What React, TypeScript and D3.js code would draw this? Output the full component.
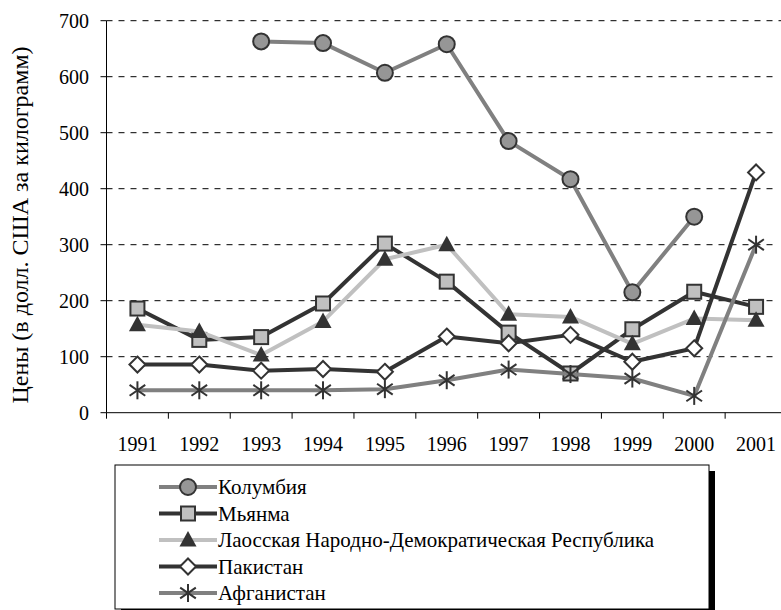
import React from "react";
import * as d3 from "d3";

const years = ["1991", "1992", "1993", "1994", "1995", "1996", "1997", "1998", "1999", "2000", "2001"];
const yTicks = [0, 100, 200, 300, 400, 500, 600, 700];

const colombia = [null, null, 663, 660, 607, 658, 485, 417, 215, 350, null];
const myanmar = [186, 130, 135, 195, 302, 234, 143, 70, 149, 216, 189];
const laos = [157, 145, 103, 163, 274, 300, 176, 171, 123, 168, 165];
const pakistan = [86, 86, 75, 78, 73, 136, 124, 139, 91, 115, 429];
const afghanistan = [40, 40, 40, 40, 42, 58, 77, 69, 61, 30, 300];

const seriesNames = [
  "Колумбия",
  "Мьянма",
  "Лаосская Народно-Демократическая Республика",
  "Пакистан",
  "Афганистан",
];

type Sym = "circle" | "square" | "triangle" | "diamond" | "star";

const series = [
  { name: seriesNames[0], values: colombia, line: "#808080", sym: "circle" as Sym },
  { name: seriesNames[1], values: myanmar, line: "#333333", sym: "square" as Sym },
  { name: seriesNames[2], values: laos, line: "#c0c0c0", sym: "triangle" as Sym },
  { name: seriesNames[3], values: pakistan, line: "#333333", sym: "diamond" as Sym },
  { name: seriesNames[4], values: afghanistan, line: "#808080", sym: "star" as Sym },
];

const serif = "Liberation Serif";

const Marker = ({ sym, x, y }: { sym: Sym; x: number; y: number }) => {
  if (sym === "circle")
    return <circle cx={x} cy={y} r={8} fill="#969696" stroke="#333" strokeWidth={2} />;
  if (sym === "square")
    return <rect x={x - 7} y={y - 7} width={14} height={14} fill="#c0c0c0" stroke="#333" strokeWidth={2} />;
  if (sym === "triangle")
    return <path d={`M${x},${y - 9}L${x + 8.5},${y + 6.5}L${x - 8.5},${y + 6.5}Z`} fill="#333" />;
  if (sym === "diamond")
    return <path d={`M${x},${y - 8}L${x + 8},${y}L${x},${y + 8}L${x - 8},${y}Z`} fill="#fff" stroke="#333" strokeWidth={2} />;
  const r = 9;
  return (
    <g stroke="#333" strokeWidth={2}>
      <line x1={x} y1={y - r} x2={x} y2={y + r} />
      <line x1={x - r * 0.87} y1={y - r * 0.6} x2={x + r * 0.87} y2={y + r * 0.6} />
      <line x1={x - r * 0.87} y1={y + r * 0.6} x2={x + r * 0.87} y2={y - r * 0.6} />
    </g>
  );
};

export default function App() {
  const W = 781;
  const H = 610;
  const left = 106.5;
  const right = 787;
  const top = 20.7;
  const bottom = 412.7;

  const x = d3.scaleBand<string>().domain(years).range([left, right]);
  const y = d3.scaleLinear().domain([0, 700]).range([bottom, top]);
  const cx = (yr: string) => (x(yr) ?? 0) + x.bandwidth() / 2;

  const line = d3
    .line<number | null>()
    .defined((d) => d !== null)
    .x((_, i) => cx(years[i]))
    .y((d) => y(d as number));

  const legX = 115;
  const legY = 465;
  const legW = 594;
  const legH = 144;
  const rowY = (i: number) => legY + 22 + i * 26.5;

  return (
    <svg width={W} height={H} style={{ position: "absolute", left: 0, top: 0 }}>
      <rect width={W} height={H} fill="#fff" />
      {yTicks.slice(1).map((t) => (
        <line key={t} x1={left} x2={t === 700 ? W : 775} y1={y(t)} y2={y(t)} stroke="#000" strokeWidth={1} strokeDasharray="6,6" />
      ))}
      <line x1={left} x2={right} y1={bottom} y2={bottom} stroke="#000" />
      <line x1={left} x2={left} y1={top} y2={bottom} stroke="#000" />
      {yTicks.map((t) => (
        <g key={t}>
          <line x1={left - 6} x2={left} y1={y(t)} y2={y(t)} stroke="#000" />
          <text x={89} y={y(t)} dy="0.35em" textAnchor="end" fontFamily={serif} fontSize={20}>
            {t}
          </text>
        </g>
      ))}
      {years.map((yr, i) => (
        <g key={yr}>
          <line x1={left + i * x.step()} x2={left + i * x.step()} y1={bottom} y2={bottom + 6} stroke="#000" />
          <text x={cx(yr)} y={451} textAnchor="middle" fontFamily={serif} fontSize={20}>
            {yr}
          </text>
        </g>
      ))}
      <text transform={`translate(28,225) rotate(-90)`} textAnchor="middle" fontFamily={serif} fontSize={24}>
        Цены (в долл. США за килограмм)
      </text>
      {series.map((s) => (
        <g key={s.name}>
          <path d={line(s.values) ?? ""} fill="none" stroke={s.line} strokeWidth={4} strokeLinejoin="round" />
          {s.values.map((v, i) => (v === null ? null : <Marker key={i} sym={s.sym} x={cx(years[i])} y={y(v)} />))}
        </g>
      ))}
      <rect x={legX + 6} y={legY + 6} width={legW} height={legH} fill="#000" />
      <rect x={legX} y={legY} width={legW} height={legH} fill="#fff" stroke="#000" strokeWidth={1} />
      {series.map((s, i) => (
        <g key={s.name}>
          <line x1={legX + 44} x2={legX + 102} y1={rowY(i)} y2={rowY(i)} stroke={s.line} strokeWidth={4} />
          <Marker sym={s.sym} x={legX + 73} y={rowY(i)} />
          <text x={legX + 103} y={rowY(i)} dy="0.35em" fontFamily={serif} fontSize={21}>
            {s.name}
          </text>
        </g>
      ))}
    </svg>
  );
}
